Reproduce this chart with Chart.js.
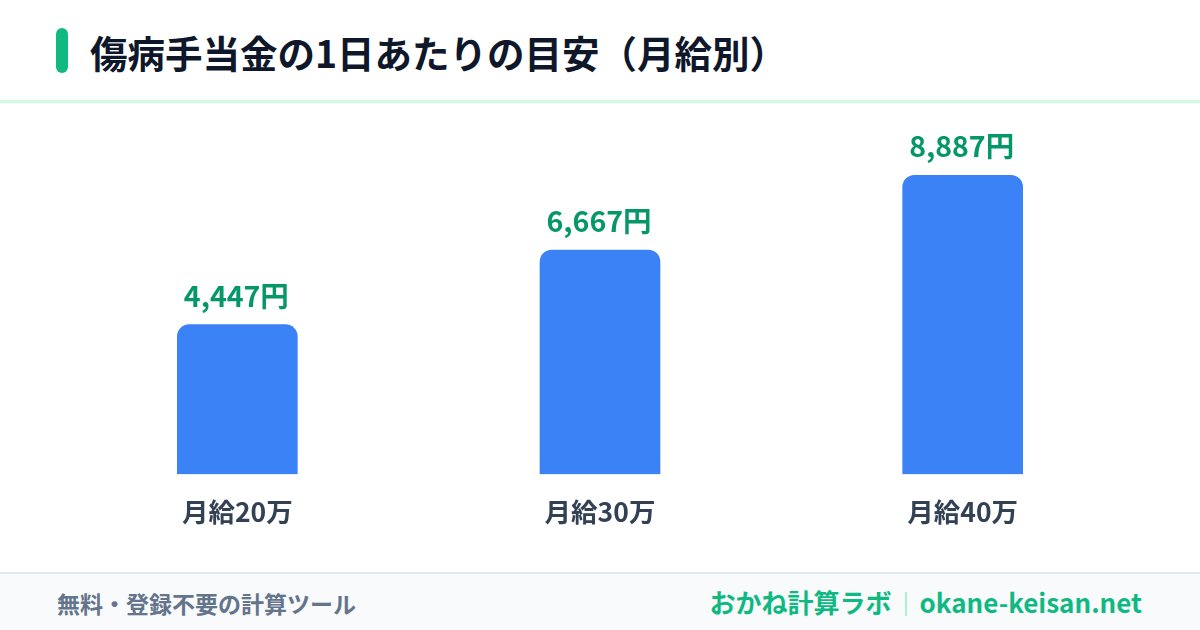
<!DOCTYPE html>
<html lang="ja">
<head>
<meta charset="utf-8">
<script src="https://cdn.jsdelivr.net/npm/chart.js@4.4.1/dist/chart.umd.min.js"></script>
<style>
  html, body { margin: 0; padding: 0; }
  body { width: 1200px; height: 630px; position: relative; overflow: hidden; background: #ffffff;
         font-family: "Noto Sans CJK JP", "Noto Sans", sans-serif; }
  #accent { position: absolute; left: 56px; top: 28px; width: 12px; height: 45px; border-radius: 6px; background: #10b981; }
  #title { position: absolute; left: 90px; top: 27px; margin: 0; font-size: 37.5px; line-height: 50px; font-weight: 700; color: #0f172a; white-space: nowrap; }
  #sep { position: absolute; left: 0; top: 100px; width: 1200px; height: 3px; background: #d1fae5; }
  #chartWrap { position: absolute; left: 0; top: 104px; width: 1200px; height: 468px; }
  #footer { position: absolute; left: 0; top: 572px; width: 1200px; height: 58px; background: #f8fafc; border-top: 2px solid #e2e8f0; box-sizing: border-box; }
  #fleft { position: absolute; left: 57px; top: 14px; font-size: 23px; line-height: 30px; font-weight: 700; color: #64748b; white-space: nowrap; }
  #fright { position: absolute; right: 58px; top: 11px; font-size: 26px; line-height: 34px; font-weight: 700; color: #10b981; white-space: nowrap; }
  #fright .bar { display: inline-block; width: 2px; height: 24px; background: #a7f3d0; vertical-align: -3px; margin: 0 13px 0 13px; }
</style>
</head>
<body>
<div id="accent"></div>
<h1 id="title">傷病手当金の1日あたりの目安（月給別）</h1>
<div id="sep"></div>
<div id="chartWrap"><canvas id="c"></canvas></div>
<div id="footer">
  <div id="fleft">無料・登録不要の計算ツール</div>
  <div id="fright">おかね計算ラボ<span class="bar"></span>okane-keisan.net</div>
</div>
<script>
const categories = ["月給20万", "月給30万", "月給40万"];
const dailyAllowance = [4447, 6667, 8887];
const valueLabels = ["4,447円", "6,667円", "8,887円"];

const valueLabelPlugin = {
  id: 'valueLabels',
  afterDatasetsDraw(chart) {
    const ctx = chart.ctx;
    const meta = chart.getDatasetMeta(0);
    ctx.save();
    ctx.font = '700 28.5px "Noto Sans CJK JP", "Noto Sans", sans-serif';
    ctx.fillStyle = '#059669';
    ctx.textAlign = 'center';
    ctx.textBaseline = 'middle';
    meta.data.forEach((bar, i) => {
      ctx.fillText(valueLabels[i], bar.x - 1, bar.y - 29);
    });
    ctx.restore();
  }
};

new Chart(document.getElementById('c'), {
  type: 'bar',
  data: {
    labels: categories,
    datasets: [{
      data: dailyAllowance,
      backgroundColor: '#3b82f6',
      borderRadius: 12,
      borderSkipped: 'start',
      barThickness: 120
    }]
  },
  options: {
    responsive: true,
    maintainAspectRatio: false,
    animation: false,
    layout: { padding: { left: 56, right: 56, top: 34, bottom: 22 } },
    plugins: { legend: { display: false }, tooltip: { enabled: false } },
    scales: {
      x: {
        grid: { display: false, drawTicks: false },
        border: { display: false },
        ticks: {
          padding: 22,
          color: '#334155',
          font: { family: '"Noto Sans CJK JP", "Noto Sans", sans-serif', size: 26.5, weight: '700', lineHeight: 1.2 }
        }
      },
      y: {
        display: false,
        min: 0,
        max: 10000
      }
    }
  },
  plugins: [valueLabelPlugin]
});
</script>
</body>
</html>
